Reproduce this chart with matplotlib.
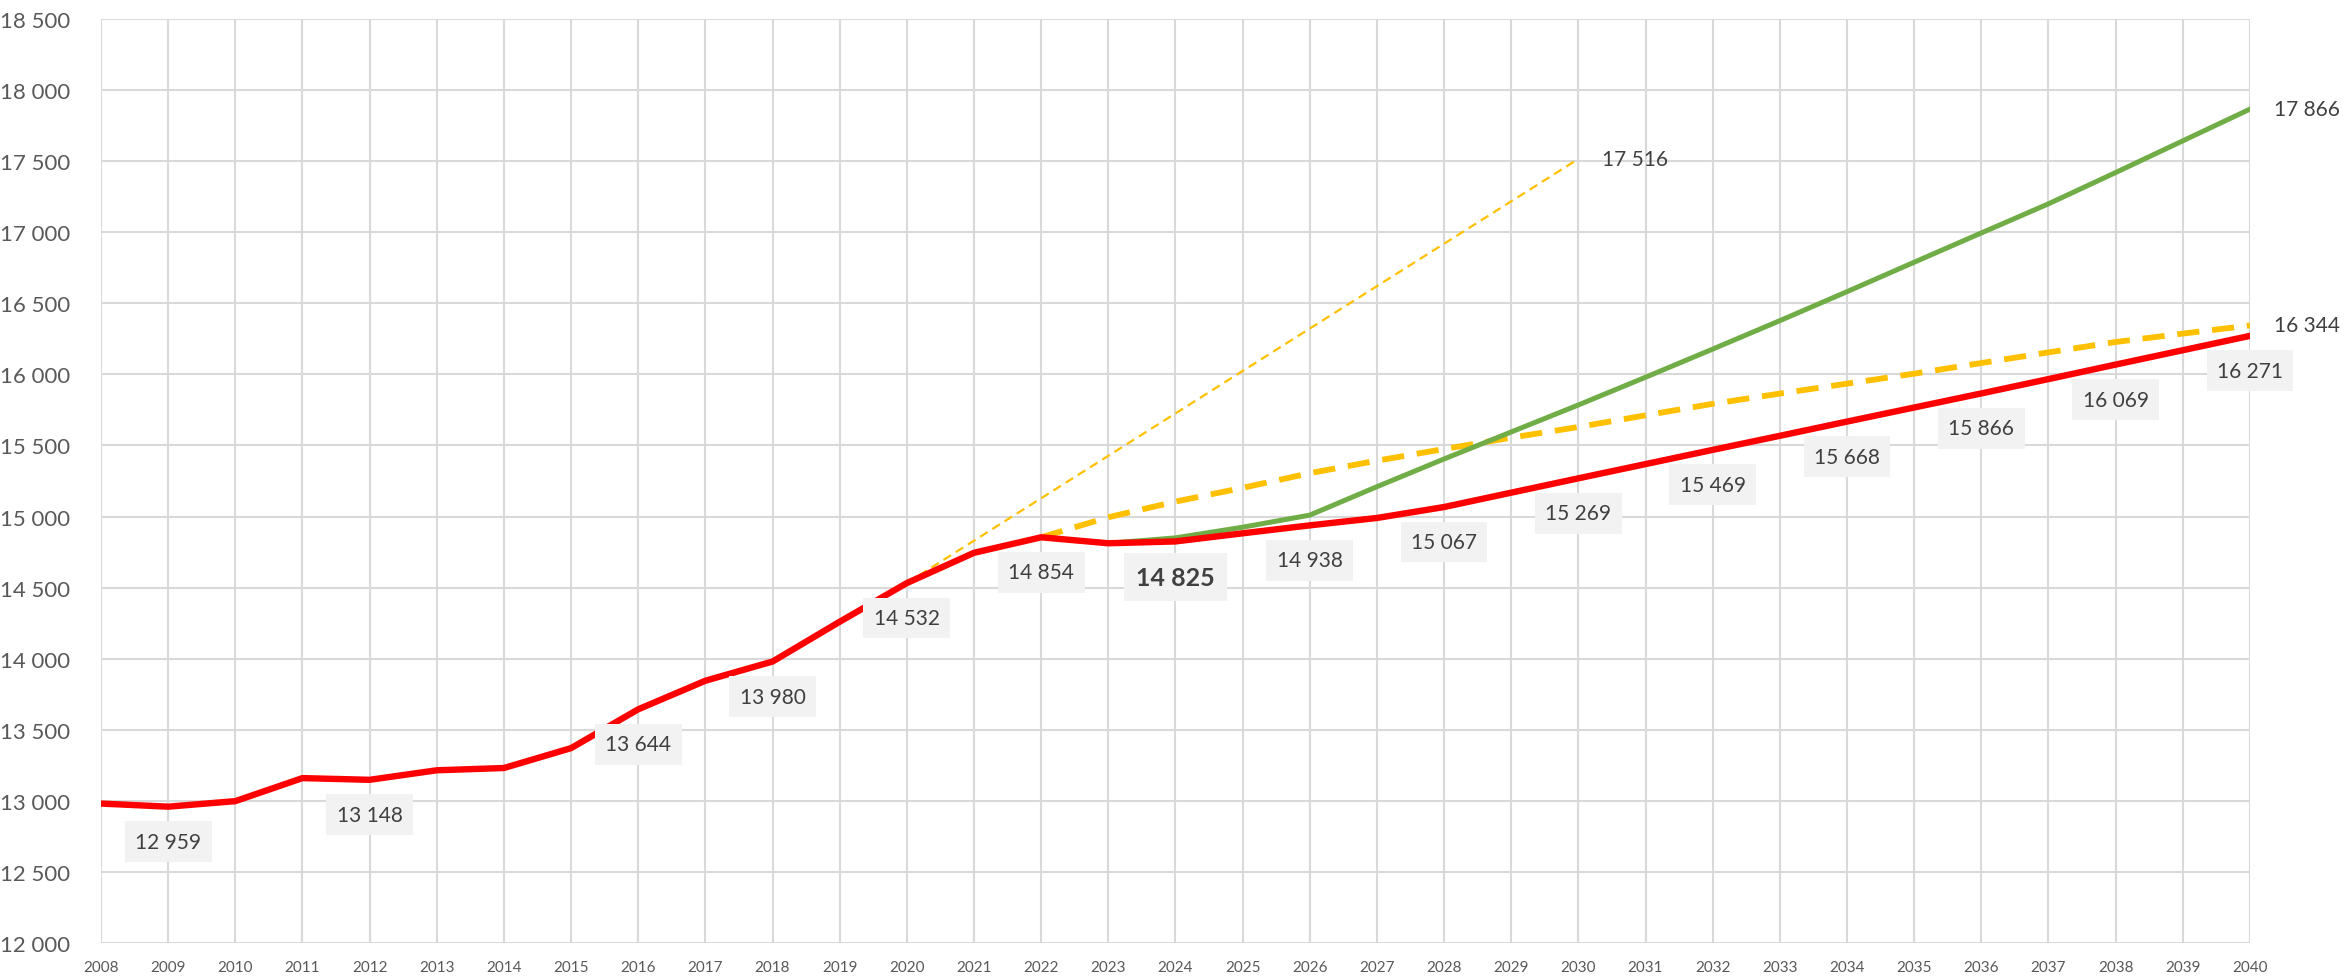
import matplotlib
matplotlib.use("Agg")
import matplotlib.pyplot as plt

plt.rcParams['font.family'] = ['Lato', 'DejaVu Sans']

# actual + baseline forecast (red)
years = list(range(2008, 2041))
base = [12981, 12959, 12998, 13160, 13148, 13215, 13231, 13371, 13644, 13845,
        13980, 14260, 14532, 14745, 14854, 14812, 14825, 14882, 14938, 14990,
        15067, 15168, 15269, 15369, 15469, 15568, 15668, 15767, 15866, 15967,
        16069, 16170, 16271]

# high scenario (green)
green_years = list(range(2023, 2041))
green = [14812, 14850, 14925, 15010, 15210, 15405, 15595, 15785, 15980, 16178,
         16378, 16582, 16789, 16995, 17200, 17420, 17643, 17866]

# thick dashed yellow
yel_years = list(range(2022, 2041))
yellow = [14854, 14995, 15105, 15202, 15305, 15393, 15475, 15555, 15630, 15712,
          15793, 15865, 15935, 16005, 16080, 16155, 16228, 16287, 16344]

# thin dashed yellow trend
trend_years = [2020, 2030]
trend = [14532, 17516]

# which red points get a boxed label
label_years = [2009, 2012, 2016, 2018, 2020, 2022, 2024, 2026, 2028, 2030,
               2032, 2034, 2036, 2038, 2040]
bold_year = 2024

fig = plt.figure(figsize=(23.46, 9.79), dpi=100)
ax = fig.add_axes([0.04305, 0.03575, 0.9160, 0.9438])

ax.plot(trend_years, trend, color='#ffc000', lw=1.6, ls=(0, (4, 2.5)), zorder=3)
ax.plot(yel_years, yellow, color='#ffc000', lw=4.2, ls=(0, (3.8, 2.2)),
        dash_capstyle='butt', zorder=4)
ax.plot(green_years, green, color='#70ad47', lw=3.6, zorder=5)
ax.plot(years, base, color='#ff0000', lw=4.6, zorder=6, solid_joinstyle='round')

box = dict(boxstyle='square,pad=0.5', fc='#f2f2f2', ec='none')
for y, v in zip(years, base):
    if y not in label_years:
        continue
    txt = f"{v:,}".replace(',', ' ')
    if y == bold_year:
        ax.annotate(txt, (y, v), xytext=(0, -36), textcoords='offset pixels',
                    ha='center', va='center', fontsize=18, fontweight='bold',
                    color='#404040', bbox=box, zorder=10)
    else:
        ax.annotate(txt, (y, v), xytext=(0, -35), textcoords='offset pixels',
                    ha='center', va='center', fontsize=15, color='#404040',
                    bbox=box, zorder=10)

# end labels without box
for xs, ys in [(green_years, green), (yel_years, yellow), (trend_years, trend)]:
    txt = f"{ys[-1]:,}".replace(',', ' ')
    ax.annotate(txt, (xs[-1], ys[-1]), xytext=(24, 0), textcoords='offset pixels',
                ha='left', va='center', fontsize=15, color='#404040', zorder=10)

ax.set_xlim(2008, 2040)
ax.set_ylim(12000, 18500)
ax.set_xticks(years)
ax.set_yticks(range(12000, 18501, 500))
ax.set_yticklabels([f"{v:,}".replace(',', ' ') for v in range(12000, 18501, 500)])
ax.tick_params(axis='x', labelsize=11, colors='#595959', length=0, pad=12)
ax.tick_params(axis='y', labelsize=16, colors='#595959', length=0, pad=22)
ax.grid(True, color='#d9d9d9', lw=1.5)
ax.set_axisbelow(True)
for s in ax.spines.values():
    s.set_visible(False)

fig.savefig('out.png', dpi=100)
